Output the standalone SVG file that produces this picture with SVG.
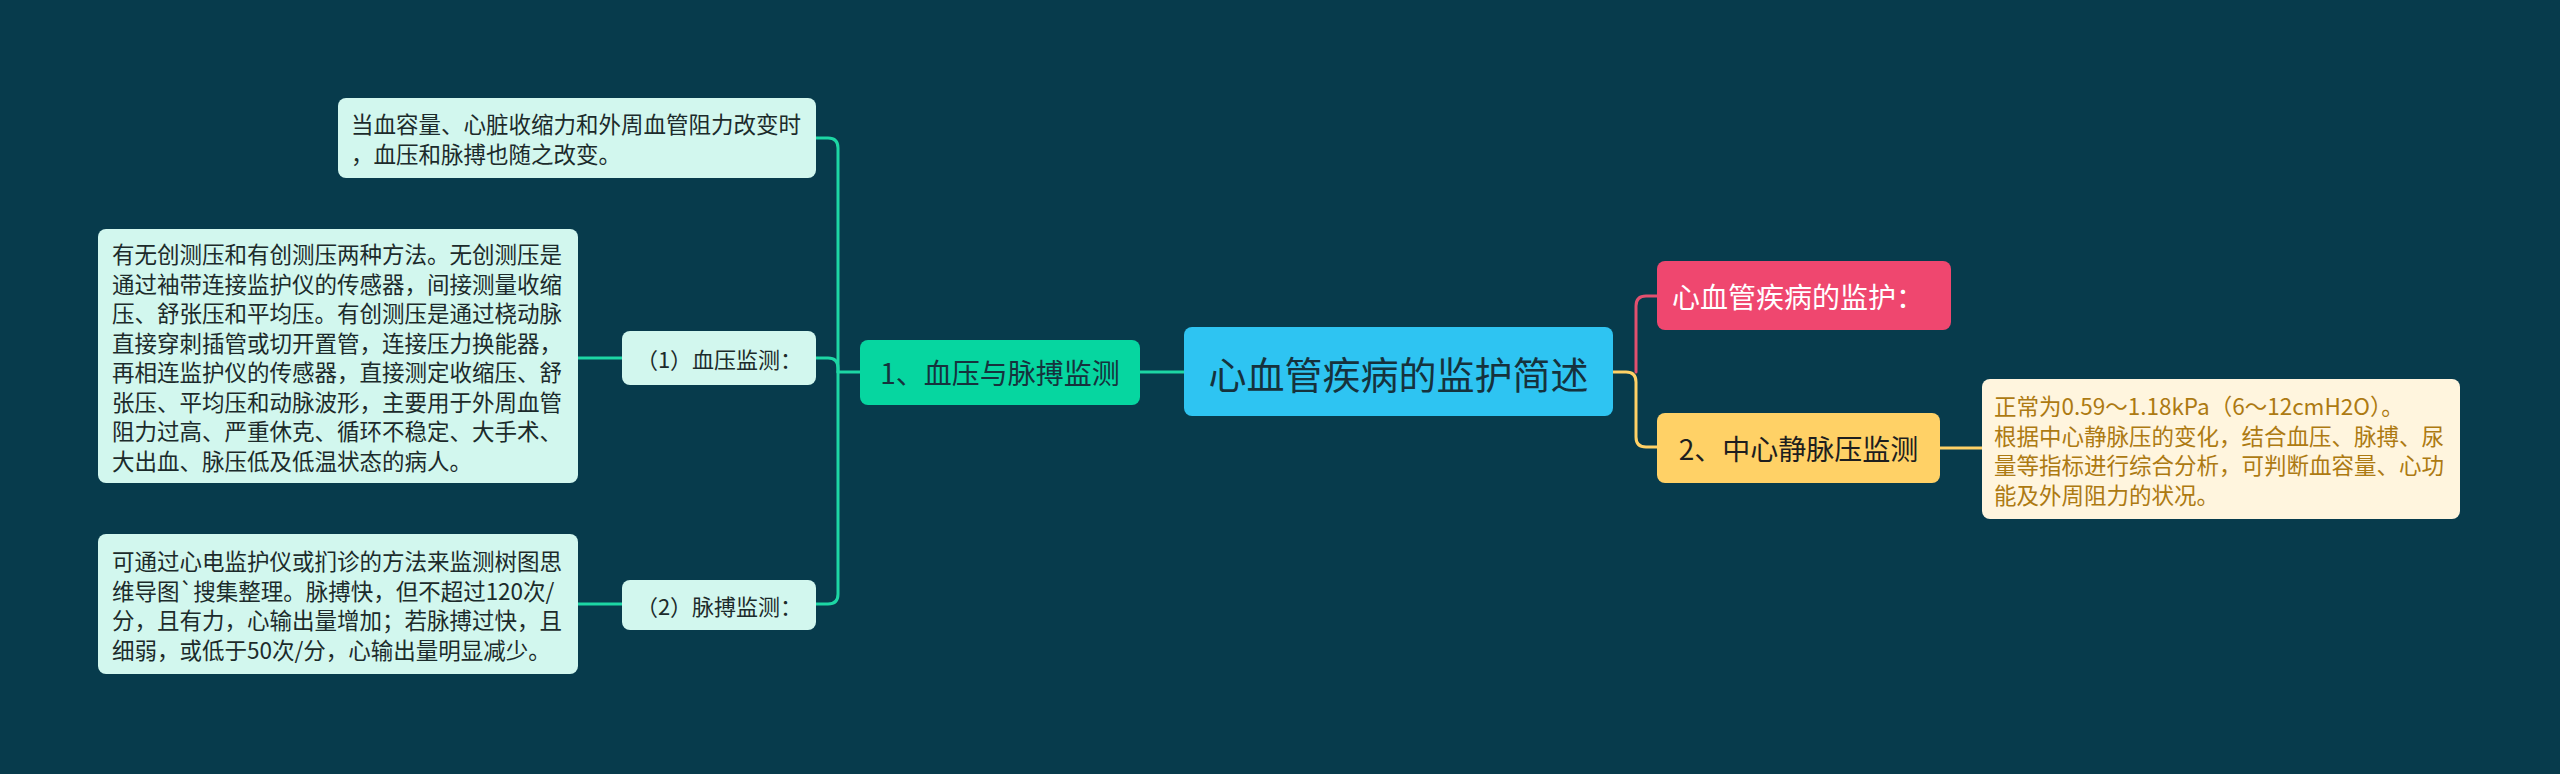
<svg xmlns="http://www.w3.org/2000/svg" width="2560" height="774" viewBox="0 0 2560 774">
<style>
text{font-family:"Noto Sans CJK SC","Noto Sans",sans-serif;dominant-baseline:central}
.leaf{fill:#d2f7ee}
.lt{font-size:22.5px;fill:#1c2b2b}
.sub{fill:#d2f7ee}
.st{font-size:22px;fill:#1c2b2b}
.c{fill:none;stroke-width:3;stroke-linecap:round}
.g{stroke:#1dd6a4}
.y{stroke:#ffd166}
.p{stroke:#e2506f}
.ct{font-size:22.5px;fill:#ad7a12}
</style>
<rect width="2560" height="774" fill="#073b4c"/>
<g id="connectors">
<path class="c g" d="M1184 372H1140"/>
<path class="c g" d="M860 372H838"/>
<path class="c g" d="M816 138H828Q838 138 838 148V594Q838 604 828 604H816"/>
<path class="c g" d="M816 358H828Q838 358 838 368V372"/>
<path class="c g" d="M578 358H622"/>
<path class="c g" d="M578 604H622"/>
<path class="c p" d="M1636 372V306Q1636 296 1646 296H1657"/>
<path class="c y" d="M1613 372H1626Q1636 372 1636 382V437Q1636 447 1646 447H1657"/>
<path class="c y" d="M1940 448H1982"/>
</g>
<g id="root">
<rect x="1184" y="327" width="429" height="89" rx="8" fill="#2ec4f2"/>
<text x="1398.5" y="372" text-anchor="middle" font-size="38" fill="#16323d">心血管疾病的监护简述</text>
</g>
<g id="n1">
<rect x="860" y="340" width="280" height="65" rx="8" fill="#06d6a0"/>
<text x="1000" y="372" text-anchor="middle" font-size="28" fill="#16323d">1、血压与脉搏监测</text>
</g>
<g id="n1a">
<rect class="leaf" x="338" y="98" width="478" height="80" rx="8"/>
<text class="lt" x="351" y="123">当血容量、心脏收缩力和外周血管阻力改变时</text>
<text class="lt" x="351" y="153">，血压和脉搏也随之改变。</text>
</g>
<g id="n1b">
<rect class="sub" x="622" y="331" width="194" height="54" rx="8"/>
<text class="st" x="719" y="358" text-anchor="middle">（1）血压监测：</text>
</g>
<g id="n1b1">
<rect class="leaf" x="98" y="229" width="480" height="254" rx="8"/>
<text class="lt" x="112" y="253">有无创测压和有创测压两种方法。无创测压是</text>
<text class="lt" x="112" y="282.5">通过袖带连接监护仪的传感器，间接测量收缩</text>
<text class="lt" x="112" y="312">压、舒张压和平均压。有创测压是通过桡动脉</text>
<text class="lt" x="112" y="341.5">直接穿刺插管或切开置管，连接压力换能器，</text>
<text class="lt" x="112" y="371">再相连监护仪的传感器，直接测定收缩压、舒</text>
<text class="lt" x="112" y="400.5">张压、平均压和动脉波形，主要用于外周血管</text>
<text class="lt" x="112" y="430">阻力过高、严重休克、循环不稳定、大手术、</text>
<text class="lt" x="112" y="459.5">大出血、脉压低及低温状态的病人。</text>
</g>
<g id="n1c">
<rect class="sub" x="622" y="580" width="194" height="50" rx="8"/>
<text class="st" x="719" y="605" text-anchor="middle">（2）脉搏监测：</text>
</g>
<g id="n1c1">
<rect class="leaf" x="98" y="534" width="480" height="140" rx="8"/>
<text class="lt" x="112" y="560">可通过心电监护仪或扪诊的方法来监测树图思</text>
<text class="lt" x="112" y="589.5">维导图`搜集整理。脉搏快，但不超过120次/</text>
<text class="lt" x="112" y="619">分，且有力，心输出量增加；若脉搏过快，且</text>
<text class="lt" x="112" y="648.5">细弱，或低于50次/分，心输出量明显减少。</text>
</g>
<g id="n2">
<rect x="1657" y="261" width="294" height="69" rx="8" fill="#ef476f"/>
<text x="1672" y="296" font-size="28" fill="#ffffff">心血管疾病的监护：</text>
</g>
<g id="n3">
<rect x="1657" y="413" width="283" height="70" rx="8" fill="#ffd166"/>
<text x="1798.5" y="448" text-anchor="middle" font-size="28" fill="#1e1e1e">2、中心静脉压监测</text>
</g>
<g id="n3a">
<rect x="1982" y="379" width="478" height="140" rx="8" fill="#fff5de"/>
<text class="ct" x="1994" y="405">正常为0.59～1.18kPa（6～12cmH2O）。</text>
<text class="ct" x="1994" y="434.5">根据中心静脉压的变化，结合血压、脉搏、尿</text>
<text class="ct" x="1994" y="464">量等指标进行综合分析，可判断血容量、心功</text>
<text class="ct" x="1994" y="493.5">能及外周阻力的状况。</text>
</g>
</svg>
